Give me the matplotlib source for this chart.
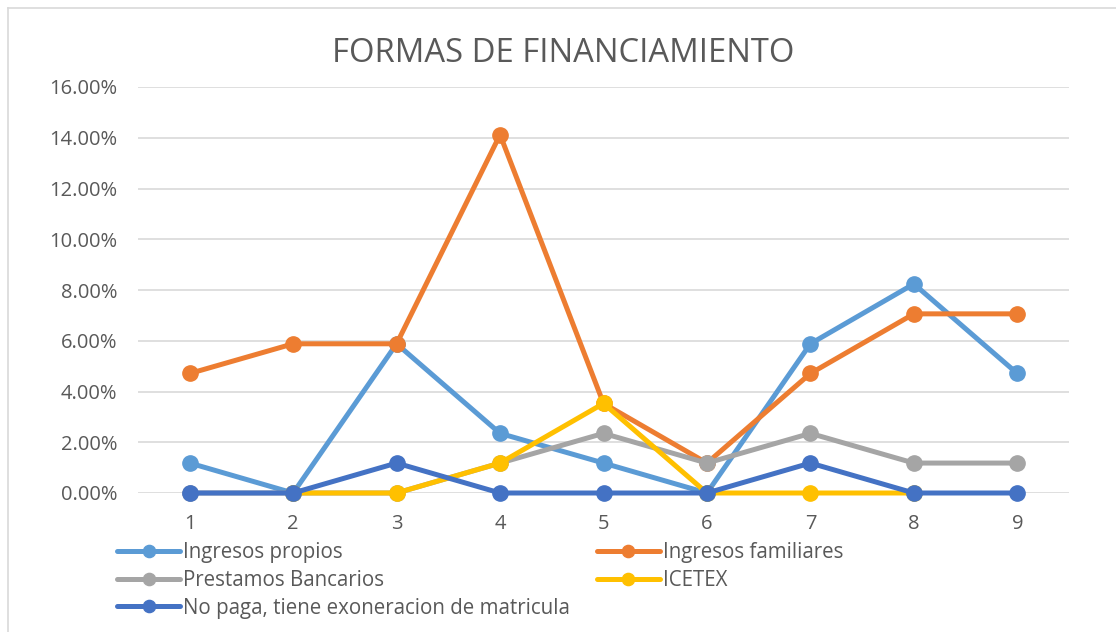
import matplotlib.pyplot as plt
from matplotlib.lines import Line2D
from matplotlib.ticker import PercentFormatter

plt.rcParams['font.family'] = ['Open Sans', 'DejaVu Sans']

# data (percent)
categories = [1, 2, 3, 4, 5, 6, 7, 8, 9]
ingresos_propios = [1.18, 0.00, 5.88, 2.35, 1.18, 0.00, 5.88, 8.24, 4.71]
ingresos_familiares = [4.71, 5.88, 5.88, 14.12, 3.53, 1.18, 4.71, 7.06, 7.06]
prestamos_bancarios = [0.00, 0.00, 0.00, 1.18, 2.35, 1.18, 2.35, 1.18, 1.18]
icetex = [None, 0.00, 0.00, 1.18, 3.53, 0.00, 0.00, 0.00, None]
no_paga = [0.00, 0.00, 1.18, 0.00, 0.00, 0.00, 1.18, 0.00, 0.00]

series = [
    ("Ingresos propios", ingresos_propios, "#5B9BD5"),
    ("Ingresos familiares", ingresos_familiares, "#ED7D31"),
    ("Prestamos Bancarios", prestamos_bancarios, "#A5A5A5"),
    ("ICETEX", icetex, "#FFC000"),
    ("No paga, tiene exoneracion de matricula", no_paga, "#4472C4"),
]

txt = "#595959"
W, H = 1116, 632
fig = plt.figure(figsize=(W / 100, H / 100), dpi=100)
ax = fig.add_axes([138 / W, (H - 493) / H, (1069 - 138) / W, (493 - 87) / H])

handles = {}
for name, vals, col in series:
    xs = [c for c, v in zip(categories, vals) if v is not None]
    ys = [v / 100 for v in vals if v is not None]
    ln, = ax.plot(xs, ys, color=col, lw=3.6, marker="o", ms=11,
                  solid_capstyle="round", clip_on=False, label=name, zorder=3)
    handles[name] = ln

ax.set_xlim(categories[0] - 0.5, categories[-1] + 0.5)
ax.set_ylim(0, 0.16)
ax.set_xticks(categories)
ax.set_yticks([i / 100 for i in range(0, 17, 2)])
ax.yaxis.set_major_formatter(PercentFormatter(1.0, decimals=2))
ax.grid(axis="y", color="#D9D9D9", lw=1.2, zorder=0)
for s in ax.spines.values():
    s.set_visible(False)
ax.tick_params(length=0, labelsize=14.5, colors=txt)
ax.tick_params(axis="y", pad=15)
ax.tick_params(axis="x", pad=15)

fig.text(563 / W, 1 - 53 / H, "FORMAS DE FINANCIAMIENTO", ha="center", va="center",
         fontsize=23.6, color=txt)

order = ["Ingresos propios", "Prestamos Bancarios", "No paga, tiene exoneracion de matricula",
         "Ingresos familiares", "ICETEX"]
leg = fig.legend([handles[n] for n in order], order, ncol=2, loc="upper left",
                 bbox_to_anchor=(117 / W, 1 - 542 / H), frameon=False, fontsize=14.8,
                 handlelength=3.07, handletextpad=0.15, columnspacing=1.3,
                 labelspacing=0.33, borderpad=0, borderaxespad=0, markerscale=0.8)
for t in leg.get_texts():
    t.set_color(txt)

# chart border
fig.add_artist(Line2D([8 / W, 8 / W], [0, 1 - 8 / H], color="#D9D9D9", lw=1.2))
fig.add_artist(Line2D([8 / W, 1], [1 - 8 / H, 1 - 8 / H], color="#D9D9D9", lw=1.2))

fig.savefig("out.png", dpi=100)
